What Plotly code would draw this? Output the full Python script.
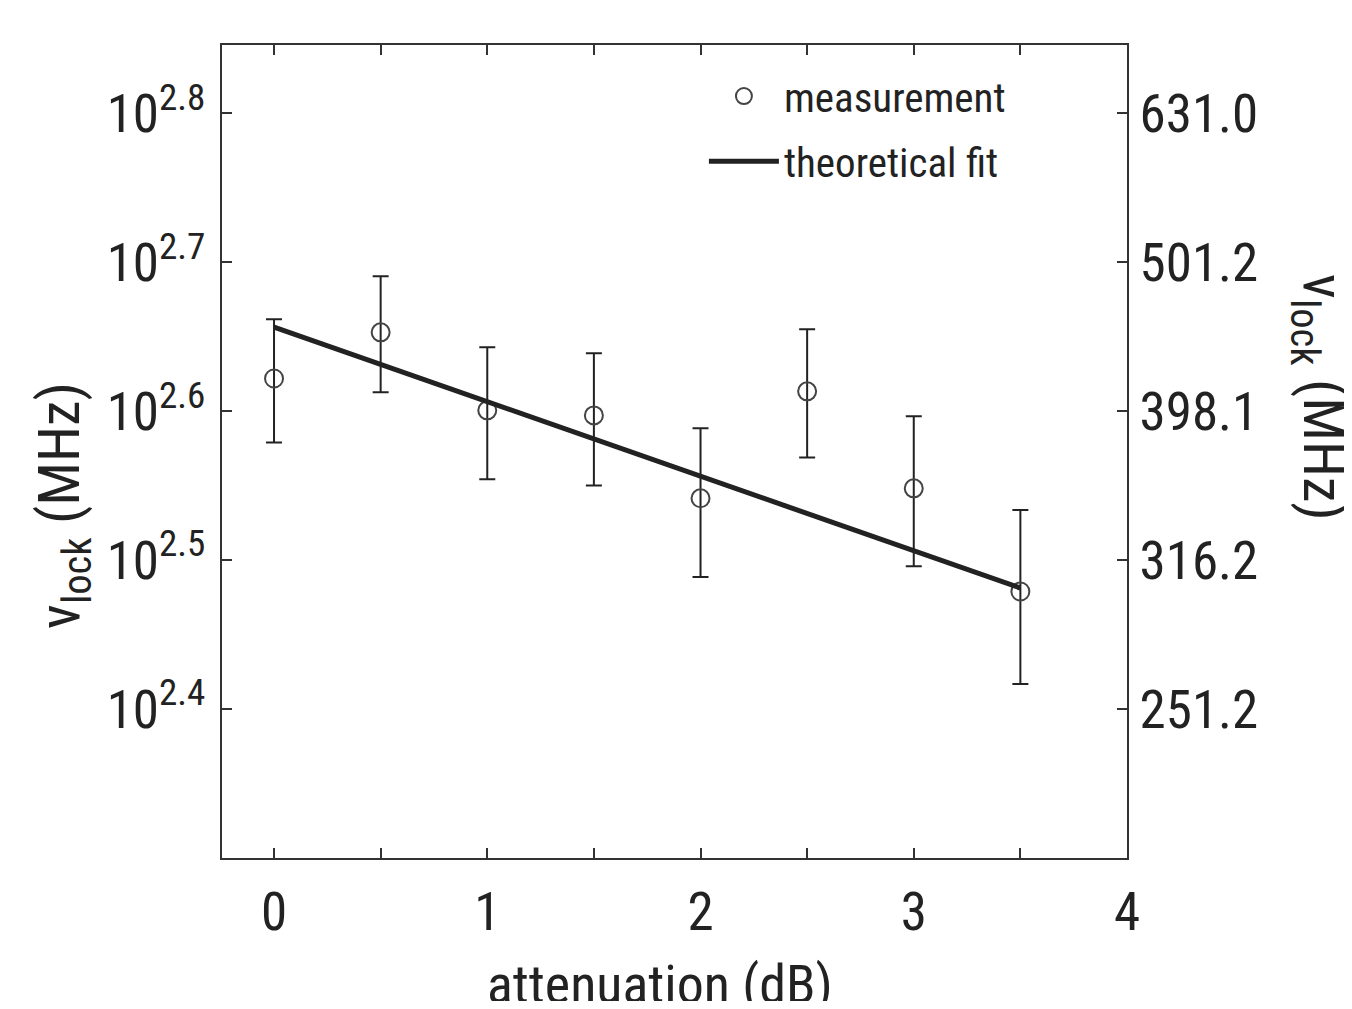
import plotly.graph_objects as go

# attenuation (dB) and locking range (MHz)
atten = [0, 0.5, 1, 1.5, 2, 2.5, 3, 3.5]
nu_lock = [418.8, 449.8, 398.7, 395.6, 348.0, 410.6, 353.4, 301.3]
nu_upper = [459.0, 490.5, 439.5, 435.5, 387.8, 451.9, 395.1, 341.7]
nu_lower = [379.3, 410.0, 358.4, 355.0, 308.1, 370.7, 313.3, 261.1]

fit_x = [0, 3.5]
fit_y = [453.5, 302.9]

log_ticks = [2.4, 2.5, 2.6, 2.7, 2.8]
left_ticktext = ['10<sup>2.4</sup>', '10<sup>2.5</sup>', '10<sup>2.6</sup>',
                 '10<sup>2.7</sup>', '10<sup>2.8</sup>']
right_ticktext = ['251.2', '316.2', '398.1', '501.2', '631.0']

FONT = 'Roboto Condensed, Roboto, sans-serif'
INK = '#222222'
AXC = '#333333'

err_plus = [u - v for u, v in zip(nu_upper, nu_lock)]
err_minus = [v - l for v, l in zip(nu_lock, nu_lower)]
tickvals = [10 ** t for t in log_ticks]
yrange = [2.3, 2.846]

fig = go.Figure()

fig.add_trace(go.Scatter(
    x=atten, y=nu_lock, mode='markers', name='measurement', legendgroup='m',
    marker=dict(symbol='circle-open', size=18, color='#444444', line=dict(width=2)),
    error_y=dict(type='data', array=err_plus, arrayminus=err_minus,
                 color=INK, thickness=2, width=8),
))

fig.add_trace(go.Scatter(
    x=fit_x, y=fit_y, mode='lines', name='theoretical fit', legendgroup='f',
    line=dict(color=INK, width=5),
))

# invisible trace to carry the right-hand axis
fig.add_trace(go.Scatter(
    x=fit_x, y=fit_y, mode='lines', yaxis='y2', showlegend=False,
    line=dict(color='rgba(0,0,0,0)'), hoverinfo='skip',
))

fig.update_layout(
    width=1336, height=993,
    margin=dict(l=214, r=217, t=37, b=143),
    paper_bgcolor='white', plot_bgcolor='white',
    font=dict(family=FONT, size=53, color=INK),
    showlegend=True,
    legend=dict(x=0.5325, y=0.978, xanchor='left', yanchor='top',
                bgcolor='rgba(0,0,0,0)', font=dict(size=41, color=INK),
                itemwidth=70, tracegroupgap=9, traceorder='grouped'),
    xaxis=dict(
        range=[-0.244, 4], dtick=1, tick0=0,
        ticks='inside', ticklen=10, tickwidth=2, tickcolor=AXC,
        minor=dict(dtick=0.5, ticks='inside', ticklen=10, tickwidth=2, tickcolor=AXC),
        showline=True, linecolor=AXC, linewidth=2, mirror='ticks',
        showgrid=False, zeroline=False, ticklabelstandoff=6,
    ),
    yaxis=dict(
        type='log', range=yrange, tickvals=tickvals, ticktext=left_ticktext,
        ticks='inside', ticklen=10, tickwidth=2, tickcolor=AXC,
        showline=True, linecolor=AXC, linewidth=2, mirror=True,
        showgrid=False, zeroline=False, ticklabelstandoff=4,
    ),
    yaxis2=dict(
        type='log', range=yrange, tickvals=tickvals, ticktext=right_ticktext,
        overlaying='y', side='right',
        ticks='inside', ticklen=10, tickwidth=2, tickcolor=AXC,
        showline=True, linecolor=AXC, linewidth=2,
        showgrid=False, zeroline=False, ticklabelstandoff=0,
    ),
    annotations=[
        dict(text='attenuation (dB)', xref='paper', yref='paper',
             x=0.484, y=-0.155, xanchor='center', yanchor='middle', showarrow=False,
             font=dict(size=54, color=INK)),
        dict(text='ν<sub>lock</sub> (MHz)', textangle=-90, xref='paper', yref='paper',
             x=-0.176, y=0.434, xanchor='center', yanchor='middle', showarrow=False,
             font=dict(size=58, color=INK)),
        dict(text='ν<sub>lock</sub> (MHz)', textangle=90, xref='paper', yref='paper',
             x=1.213, y=0.566, xanchor='center', yanchor='middle', showarrow=False,
             font=dict(size=58, color=INK)),
    ],
)

fig.write_html('out.html')
